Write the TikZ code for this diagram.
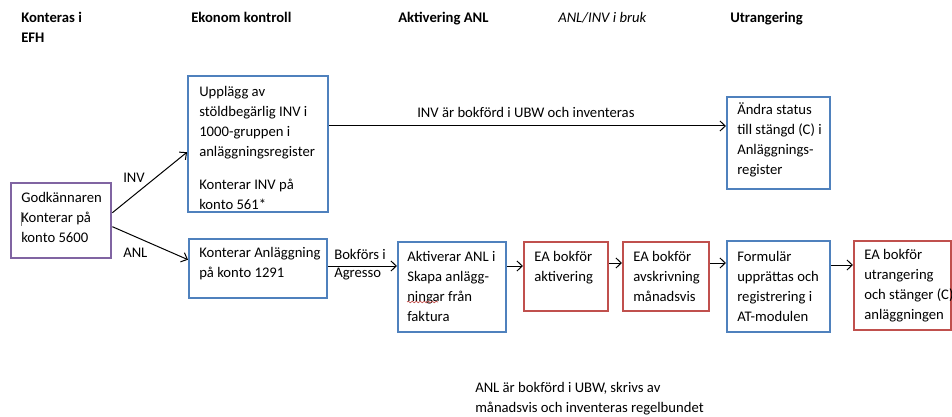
\documentclass[tikz,border=0pt]{standalone}
\usepackage{fontspec}
\setmainfont{Carlito}
\usetikzlibrary{arrows.meta,calc,decorations.pathmorphing}
\definecolor{boxblue}{HTML}{4F81BD}
\definecolor{boxred}{HTML}{C0504D}
\definecolor{boxpurple}{HTML}{8064A2}
\begin{document}
\begin{tikzpicture}[x=0.75pt,y=-0.75pt,
  box/.style={draw, line width=1.8pt, inner sep=0pt, anchor=north west},
  sz/.style 2 args={minimum width={#1*0.75pt}, minimum height={#2*0.75pt}},
  bluebox/.style={box, draw=boxblue},
  redbox/.style={box, draw=boxred},
  purplebox/.style={box, draw=boxpurple},
  txt/.style={anchor=north west, align=left, inner sep=0pt, font=\fontsize{11}{15}\selectfont},
  head/.style={txt, font=\fontsize{11}{15}\selectfont\bfseries},
  arr/.style={line width=0.75pt, -{Straight Barb[length=4pt,width=7.5pt,line width=0.75pt]}}
]
\useasboundingbox (0,0) rectangle (952,417);

% headers
\node[head] (h1) at (21,8) {\strut Konteras i\\EFH};
\node[head] (h2) at (191,8) {\strut Ekonom kontroll};
\node[head] (h3) at (398,8) {\strut Aktivering ANL};
\node[txt, font=\fontsize{11}{15}\selectfont\itshape] (h4) at (558,8) {\strut ANL/INV i bruk};
\node[head] (h5) at (730,8) {\strut Utrangering};

% boxes
\node[purplebox, sz={100}{75}] (g) at (10,182) {};
\node[bluebox, sz={140}{136}] (u) at (187,75) {};
\node[bluebox, sz={138}{59}] (k) at (188,238) {};
\node[bluebox, sz={108}{90}] (akt) at (397,241) {};
\node[redbox, sz={84}{69}] (ea1) at (523,241) {};
\node[redbox, sz={86}{69}] (ea2) at (622,241) {};
\node[bluebox, sz={103}{92}] (s) at (726,96) {};
\node[bluebox, sz={103}{91}] (f) at (726,240) {};
\node[redbox, sz={97}{89}] (utr) at (853,240) {};

% box texts
\node[txt] (tg) at (21,188) {\strut Godkännaren\\Konterar på\\konto 5600};
\node[txt] (tu) at (199,82) {\strut Upplägg av\\stöldbegärlig INV i\\1000-gruppen i\\anläggningsregister\\[10pt]Konterar INV på\\konto 561*};
\node[txt] (tk) at (199,243) {\strut Konterar Anläggning\\på konto 1291};
\node[txt] (takt) at (407,247) {\strut Aktiverar ANL i\\Skapa anlägg-\\ningar från\\faktura};
\node[txt] (tea1) at (534,247) {\strut EA bokför\\aktivering};
\node[txt] (tea2) at (633,247) {\strut EA bokför\\avskrivning\\månadsvis};
\node[txt] (ts) at (737,100) {\strut Ändra status\\till stängd (C) i\\Anläggnings-\\register};
\node[txt] (tf) at (737,247) {\strut Formulär\\upprättas och\\registrering i\\AT-modulen};
\node[txt] (tutr) at (864,245) {\strut EA bokför\\utrangering\\och stänger (C)\\anläggningen};

% text cursor and spelling mark artefacts
\draw[gray, line width=0.5pt] (21,212) -- (21,226);
\draw[boxred, line width=0.5pt, decorate, decoration={snake, amplitude=0.6pt, segment length=3pt}] (407,302) -- (438,302);

% connectors
\draw[arr] ($(g.east)+(0,-8)$) -- ($(u.west)+(0,8)$);
\draw[arr] ($(g.east)+(0,6)$) -- ($(k.west)+(0,-9)$);
\node[txt] (lInv) at (123,168) {\strut INV};
\node[txt] (lAnl) at (123,243) {\strut ANL};

\coordinate (r1) at (0,126);
\draw[arr] (u.east |- r1) -- (s.west |- r1);
\node[txt] (lubw) at (417,103) {\strut INV är bokförd i UBW och inventeras};

\coordinate (r2) at (0,266);
\coordinate (r3) at (0,263);
\coordinate (r4) at (0,265);
\draw[arr] (k.east |- r2) -- (akt.west |- r2);
\node[txt] (lagr) at (334,245) {\strut Bokförs i\\[-1.5pt]Agresso};
\draw[arr] (akt.east |- r2) -- (ea1.west |- r2);
\draw[arr] (ea1.east |- r3) -- (ea2.west |- r3);
\draw[arr] (ea2.east |- r3) -- (f.west |- r3);
\draw[arr] (f.east |- r4) -- (utr.west |- r4);

% bottom note
\node[txt] (note) at (475,378) {\strut ANL är bokförd i UBW, skrivs av\\månadsvis och inventeras regelbundet};
\end{tikzpicture}
\end{document}
